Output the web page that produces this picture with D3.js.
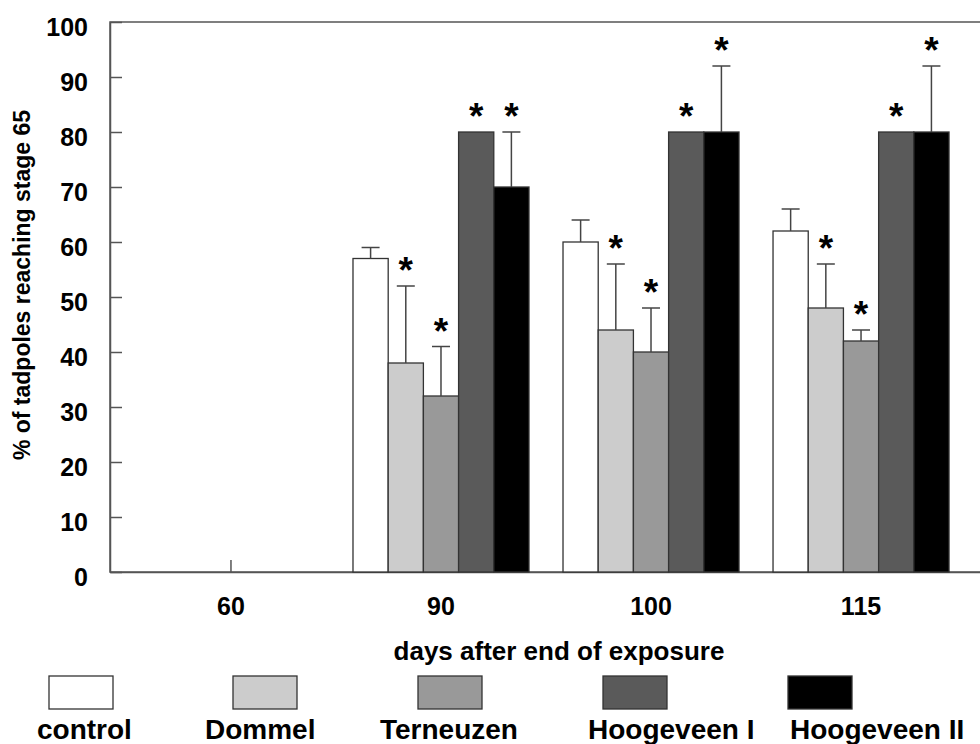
<!DOCTYPE html>
<html lang="en">
<head>
  <meta charset="UTF-8">
  <title>Tadpoles reaching stage 65</title>
  <script src="https://d3js.org/d3.v7.min.js"></script>
  <style>
    body { margin: 0; background: #fff; font-family: "Liberation Sans", Arial, sans-serif; }
    svg text { font-family: "Liberation Sans", Arial, sans-serif; font-weight: bold; fill: #000; }
  </style>
</head>
<body>
  <div id="chart"></div>
  <script>
    // Data
    const days = ["60", "90", "100", "115"];
    const groups = ["control", "Dommel", "Terneuzen", "Hoogeveen I", "Hoogeveen II"];
    const fills = ["#ffffff", "#cccccc", "#999999", "#5a5a5a", "#000000"];

    const meanControl   = [0, 57, 60, 62];
    const meanDommel    = [0, 38, 44, 48];
    const meanTerneuzen = [0, 32, 40, 42];
    const meanHoogI     = [0, 80, 80, 80];
    const meanHoogII    = [0, 70, 80, 80];

    const errControl   = [0, 2, 4, 4];
    const errDommel    = [0, 14, 12, 8];
    const errTerneuzen = [0, 9, 8, 2];
    const errHoogI     = [0, 0, 0, 0];
    const errHoogII    = [0, 10, 12, 12];

    // significant difference from control (asterisk)
    const sigControl   = [false, false, false, false];
    const sigDommel    = [false, true, true, true];
    const sigTerneuzen = [false, true, true, true];
    const sigHoogI     = [false, true, true, true];
    const sigHoogII    = [false, true, true, true];

    const yTicks = [0, 10, 20, 30, 40, 50, 60, 70, 80, 90, 100];

    const means = [meanControl, meanDommel, meanTerneuzen, meanHoogI, meanHoogII];
    const errs = [errControl, errDommel, errTerneuzen, errHoogI, errHoogII];
    const sigs = [sigControl, sigDommel, sigTerneuzen, sigHoogI, sigHoogII];

    // flatten into bar records
    const bars = [];
    days.forEach((d, i) => {
      groups.forEach((g, j) => {
        bars.push({ day: d, group: g, mean: means[j][i], err: errs[j][i], sig: sigs[j][i], fill: fills[j] });
      });
    });

    const width = 980, height = 744;
    const plot = { left: 110, right: 982, top: 22, bottom: 572 };

    const svg = d3.select('#chart').append('svg')
      .attr('width', width)
      .attr('height', height);

    // Scales
    const x0 = d3.scaleBand()
      .domain(days)
      .range([plot.left, plot.right])
      .paddingInner(0.162)
      .paddingOuter(0.157);

    const x1 = d3.scaleBand()
      .domain(groups)
      .range([0, x0.bandwidth()]);

    const y = d3.scaleLinear()
      .domain([0, 100])
      .range([plot.bottom, plot.top]);

    const axisColor = '#555';

    // Frame (top and right edges)
    svg.append('rect')
      .attr('x', plot.left).attr('y', plot.top)
      .attr('width', plot.right - plot.left)
      .attr('height', plot.bottom - plot.top)
      .attr('fill', 'none')
      .attr('stroke', axisColor)
      .attr('stroke-width', 1.5);

    // Y axis
    const yAxis = svg.append('g')
      .attr('transform', `translate(${plot.left},0)`)
      .call(d3.axisLeft(y).tickValues(yTicks).tickSizeInner(-12).tickSizeOuter(0).tickPadding(22));
    yAxis.select('.domain').attr('stroke', axisColor).attr('stroke-width', 1.5);
    yAxis.selectAll('.tick line').attr('stroke', axisColor).attr('stroke-width', 1.5);
    yAxis.selectAll('.tick text')
      .attr('font-size', 25)
      .attr('dy', '0.52em');

    // X axis
    const xAxis = svg.append('g')
      .attr('transform', `translate(0,${plot.bottom})`)
      .call(d3.axisBottom(x0).tickSizeInner(-12).tickSizeOuter(0).tickPadding(25));
    xAxis.select('.domain').attr('stroke', axisColor).attr('stroke-width', 1.5);
    xAxis.selectAll('.tick line').attr('stroke', axisColor).attr('stroke-width', 1.5);
    xAxis.selectAll('.tick text').attr('font-size', 25);

    // Bars
    const barG = svg.append('g');
    barG.selectAll('rect')
      .data(bars)
      .join('rect')
      .attr('x', d => x0(d.day) + x1(d.group))
      .attr('y', d => y(d.mean))
      .attr('width', x1.bandwidth())
      .attr('height', d => y(0) - y(d.mean))
      .attr('fill', d => d.fill)
      .attr('stroke', '#333')
      .attr('stroke-width', 1.3);

    // Error bars (upper only)
    const errBars = bars.filter(d => d.err > 0);
    const cap = 9;
    const eb = svg.append('g').attr('stroke', '#444').attr('stroke-width', 1.5);
    eb.selectAll('line.v')
      .data(errBars)
      .join('line')
      .attr('class', 'v')
      .attr('x1', d => x0(d.day) + x1(d.group) + x1.bandwidth() / 2)
      .attr('x2', d => x0(d.day) + x1(d.group) + x1.bandwidth() / 2)
      .attr('y1', d => y(d.mean))
      .attr('y2', d => y(d.mean + d.err));
    eb.selectAll('line.h')
      .data(errBars)
      .join('line')
      .attr('class', 'h')
      .attr('x1', d => x0(d.day) + x1(d.group) + x1.bandwidth() / 2 - cap)
      .attr('x2', d => x0(d.day) + x1(d.group) + x1.bandwidth() / 2 + cap)
      .attr('y1', d => y(d.mean + d.err))
      .attr('y2', d => y(d.mean + d.err));

    // Significance asterisks
    svg.append('g').selectAll('text')
      .data(bars.filter(d => d.sig))
      .join('text')
      .attr('x', d => x0(d.day) + x1(d.group) + x1.bandwidth() / 2)
      .attr('y', d => y(d.mean + d.err) - 3)
      .attr('text-anchor', 'middle')
      .attr('font-size', 37)
      .text('*');

    // Axis titles
    svg.append('text')
      .attr('x', 559).attr('y', 660)
      .attr('text-anchor', 'middle')
      .attr('font-size', 26)
      .text('days after end of exposure');

    svg.append('text')
      .attr('transform', 'translate(30,285) rotate(-90)')
      .attr('text-anchor', 'middle')
      .attr('font-size', 23)
      .text('% of tadpoles reaching stage 65');

    // Legend
    const legendX = [49, 233, 418, 603, 788];
    const labelX = [37, 205, 380, 588, 790];
    const legend = svg.append('g');
    groups.forEach((g, i) => {
      legend.append('rect')
        .attr('x', legendX[i]).attr('y', 676)
        .attr('width', 64).attr('height', 33)
        .attr('fill', fills[i])
        .attr('stroke', '#333')
        .attr('stroke-width', 1.3);
      legend.append('text')
        .attr('x', labelX[i]).attr('y', 739)
        .attr('font-size', 28)
        .text(g);
    });
  </script>
</body>
</html>
